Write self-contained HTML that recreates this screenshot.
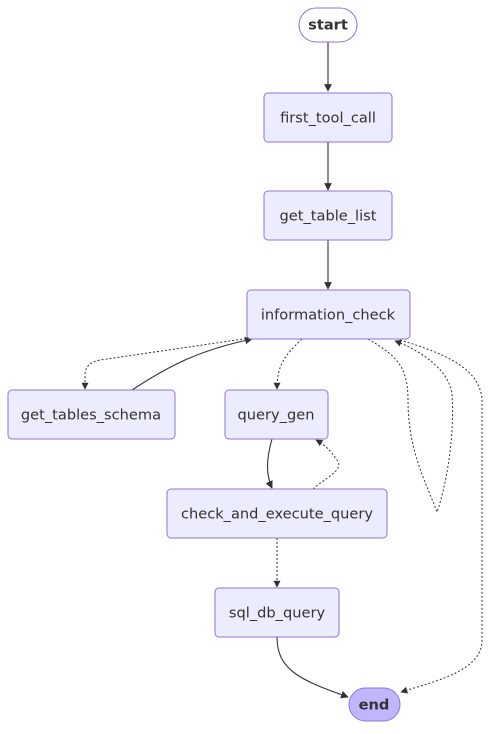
<!DOCTYPE html>
<html><head><style>
body{margin:0;background:#fff;}
svg text{font-family:"DejaVu Sans","Liberation Sans",sans-serif;font-size:14.6px;fill:#333;text-anchor:middle;dominant-baseline:central;}
</style></head><body>
<svg width="490" height="729" viewBox="0 0 490 729" xmlns="http://www.w3.org/2000/svg">
<defs>
<marker id="a" viewBox="0 0 10 10" refX="9" refY="5" markerWidth="7" markerHeight="7" orient="auto"><path d="M0,0 L10,5 L0,10 z" fill="#333"/></marker>
</defs>
<g fill="none" stroke="#333" stroke-width="1.1">
<path d="M328,42 L328,91" marker-end="url(#a)"/>
<path d="M328,142 L328,190" marker-end="url(#a)"/>
<path d="M328,240 L328,289" marker-end="url(#a)"/>
<path d="M132,390 C170,365 200,350 252,339" marker-end="url(#a)"/>
<path d="M272,439 C266,460 266,475 272,488" marker-end="url(#a)"/>
<path d="M277,637 C277,670 300,680 348,697" marker-end="url(#a)"/>
<g stroke-dasharray="2,2" stroke-width="1">
<path d="M250,338 L100,360 Q85,363 85,375 L85,389" marker-end="url(#a)"/>
<path d="M302,339 C285,355 277,365 277,389" marker-end="url(#a)"/>
<path d="M313,489 C325,478 345,470 337,460 C330,450 325,445 316,440" marker-end="url(#a)"/>
<path d="M368,339 C395,355 408,365 408,400 C408,450 425,480 437,512 C445,490 455,440 452,395 C450,370 420,350 395,341" marker-end="url(#a)"/>
<path d="M400,340 C450,355 480,370 482,400 L482,640 C482,670 440,680 401,692" marker-end="url(#a)"/>
<path d="M277,538 L277,587" marker-end="url(#a)"/>
</g>
</g>
<g stroke="#9370DB" stroke-width="1" fill="#ECECFF">
<rect x="299" y="8" width="58" height="34" rx="17" fill="#fff"/>
<rect x="264" y="93" width="128" height="49" rx="4"/>
<rect x="264" y="191" width="128" height="49" rx="4"/>
<rect x="247" y="290" width="163" height="49" rx="4"/>
<rect x="8" y="390" width="167" height="49" rx="4"/>
<rect x="225" y="390" width="103" height="49" rx="4"/>
<rect x="167" y="489" width="220" height="49" rx="4"/>
<rect x="215" y="588" width="124" height="49" rx="4"/>
<rect x="349" y="688" width="51" height="33" rx="16.5" fill="#BFB6FC"/>
</g>
<text x="328" y="25" font-weight="bold">start</text>
<text x="328" y="118">first_tool_call</text>
<text x="328" y="216">get_table_list</text>
<text x="328" y="315">information_check</text>
<text x="91" y="415">get_tables_schema</text>
<text x="276" y="415">query_gen</text>
<text x="277" y="514">check_and_execute_query</text>
<text x="277" y="613">sql_db_query</text>
<text x="374" y="705" font-weight="bold">end</text>
</svg>
</body></html>
